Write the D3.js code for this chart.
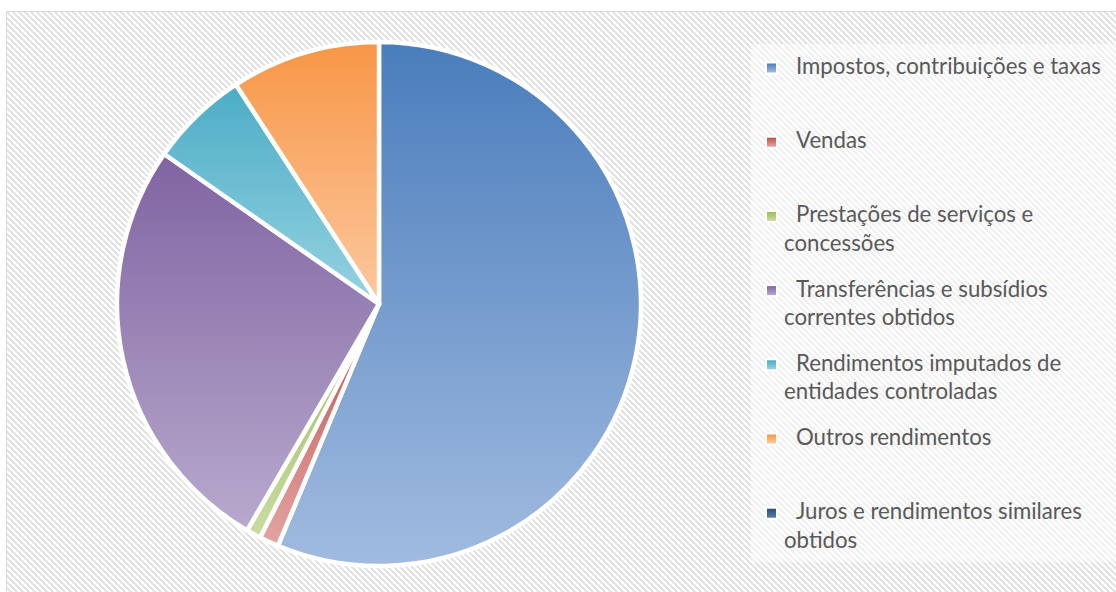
<!DOCTYPE html>
<html>
<head>
<meta charset="utf-8">
<script src="https://cdn.jsdelivr.net/npm/d3@7"></script>
<style>
  html, body { margin: 0; padding: 0; background: #ffffff; }
  svg { display: block; }
</style>
</head>
<body>
<svg id="chart" width="1116" height="592"></svg>
<script>
// Receitas por natureza (percentagem do total)
const categories = [
  "Impostos, contribuições e taxas",
  "Vendas",
  "Prestações de serviços e concessões",
  "Transferências e subsídios correntes obtidos",
  "Rendimentos imputados de entidades controladas",
  "Outros rendimentos",
  "Juros e rendimentos similares obtidos"
];
const shares = [56.3, 1.2, 0.9, 26.3, 6.1, 9.2, 0.0];

// Gradient stops per category: darker at top, lighter at bottom
const topColors    = ["#4a7dbc", "#c0504d", "#9bbb59", "#8064a2", "#4bacc6", "#f79646", "#2c4d75"];
const bottomColors = ["#a1bbe0", "#e3a4a2", "#c9dca2", "#b8a9cd", "#96d3e1", "#fcc89f", "#5a7bab"];

const svg = d3.select("#chart");
const defs = svg.append("defs");

// small pixel downward-diagonal pattern
const P = 6;
const pat = defs.append("pattern")
  .attr("id", "hatch")
  .attr("patternUnits", "userSpaceOnUse")
  .attr("width", P).attr("height", P);
pat.append("rect").attr("width", P).attr("height", P).attr("fill", "#ffffff");
const cells = [];
for (let y = 0; y < P; y++) {
  for (let x = 0; x < P; x++) {
    const k = ((x - y) % P + P) % P;
    if (k < 3) cells.push({x, y});
  }
}
pat.selectAll("rect.px").data(cells).enter().append("rect")
  .attr("class", "px")
  .attr("x", d => d.x).attr("y", d => d.y)
  .attr("width", 1).attr("height", 1)
  .attr("fill", "#e3e3e3")
  .attr("shape-rendering", "crispEdges");

categories.forEach((c, i) => {
  const g = defs.append("linearGradient")
    .attr("id", "grad" + i)
    .attr("x1", 0).attr("y1", 0).attr("x2", 0).attr("y2", 1);
  g.append("stop").attr("offset", "0%").attr("stop-color", topColors[i]);
  g.append("stop").attr("offset", "100%").attr("stop-color", bottomColors[i]);
});

// Chart area
svg.append("rect")
  .attr("x", 6.5).attr("y", 11.5)
  .attr("width", 1120).attr("height", 600)
  .attr("fill", "url(#hatch)")
  .attr("stroke", "#d9d9d9").attr("stroke-width", 1);

// Pie
const cx = 379, cy = 304, radius = 262;
const pie = d3.pie().sort(null).value(d => d.v);
const arc = d3.arc().innerRadius(0).outerRadius(radius);
const data = categories.map((c, i) => ({c, v: shares[i], i}));

const pieG = svg.append("g").attr("transform", `translate(${cx},${cy})`);
pieG.selectAll("path").data(pie(data).filter(d => d.data.v > 0)).enter().append("path")
  .attr("d", arc)
  .attr("fill", d => `url(#grad${d.data.i})`)
  .attr("stroke", "#ffffff")
  .attr("stroke-width", 4.5)
  .attr("stroke-linejoin", "round");

// Legend panel
svg.append("rect")
  .attr("x", 751).attr("y", 44)
  .attr("width", 365).attr("height", 518)
  .attr("fill", "#ffffff").attr("fill-opacity", 0.45);

const legend = svg.append("g");
const fontFamily = "Lato, 'Open Sans', sans-serif";

// size the legend font so the first entry spans 305px
const probe = legend.append("text")
  .attr("font-family", fontFamily).attr("font-size", 24)
  .text(categories[0]);
const probeLen = probe.node().getComputedTextLength();
probe.remove();
const fontSize = 24 * 305 / probeLen;

const textX = 796, wrapX = 784, maxRight = 1108;
const firstBaseline = 74, step = 74.2, lineH = 28.6;

const measurer = legend.append("text")
  .attr("font-family", fontFamily).attr("font-size", fontSize);
function widthOf(s) {
  measurer.text(s);
  return measurer.node().getComputedTextLength();
}

categories.forEach((label, i) => {
  const base = firstBaseline + i * step;
  // wrap the label into lines
  const words = label.split(" ");
  const lines = [];
  let cur = "";
  words.forEach(w => {
    const trial = cur ? cur + " " + w : w;
    const startX = lines.length === 0 ? textX : wrapX;
    if (cur && startX + widthOf(trial) > maxRight) {
      lines.push(cur);
      cur = w;
    } else {
      cur = trial;
    }
  });
  if (cur) lines.push(cur);

  // marker with soft white halo
  legend.append("rect")
    .attr("x", 765).attr("y", base - 12.5)
    .attr("width", 13).attr("height", 13)
    .attr("fill", "#ffffff").attr("fill-opacity", 0.9);
  legend.append("rect")
    .attr("x", 767).attr("y", base - 10.5)
    .attr("width", 9).attr("height", 9)
    .attr("fill", `url(#grad${i})`);

  const t = legend.append("text")
    .attr("font-family", fontFamily)
    .attr("font-size", fontSize)
    .attr("fill", "#595959");
  lines.forEach((ln, j) => {
    t.append("tspan")
      .attr("x", j === 0 ? textX : wrapX)
      .attr("y", base + j * lineH)
      .text(ln);
  });
});
measurer.remove();
</script>
</body>
</html>
